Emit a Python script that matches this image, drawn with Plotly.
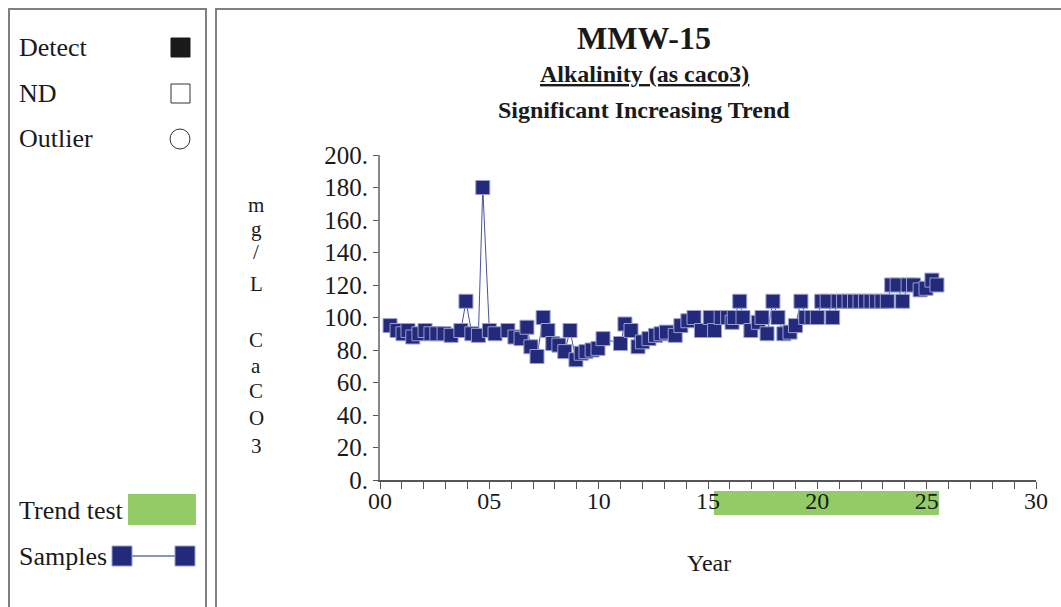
import plotly.graph_objects as go

# ---- data ----
years = [0.46, 0.78, 1.05, 1.28, 1.5, 1.78, 2.06, 2.33, 2.6, 2.93,
         3.25, 3.7, 3.93, 4.2, 4.5, 4.7, 5.0, 5.26, 5.85, 6.17,
         6.45, 6.72, 6.9, 7.18, 7.46, 7.68, 7.9, 8.18, 8.45, 8.69,
         8.96, 9.2, 9.42, 9.7, 9.97, 10.2, 11.0, 11.2, 11.48, 11.8,
         12.0, 12.3, 12.6, 12.85, 13.1, 13.5, 13.76, 14.08, 14.36, 14.7,
         15.1, 15.3, 15.6, 15.9, 16.1, 16.2, 16.45, 16.6, 16.96, 17.3,
         17.47, 17.7, 17.97, 18.2, 18.47, 18.75, 19.0, 19.25, 19.47, 19.75,
         20.0, 20.2, 20.45, 20.7, 20.95, 21.2, 21.45, 21.7, 21.95, 22.2,
         22.45, 22.7, 22.95, 23.2, 23.4, 23.65, 23.9, 24.15, 24.4, 24.7,
         24.97, 25.24, 25.47]
alkalinity = [95, 92, 90, 92, 88, 90, 92, 90, 90, 90,
              89, 92, 110, 90, 89, 180, 92, 90, 92, 88,
              87, 94, 82, 76, 100, 92, 84, 83, 79, 92,
              74, 78, 79, 80, 81, 87, 84, 96, 92, 82,
              85, 87, 89, 90, 91, 89, 95, 98, 100, 92,
              100, 92, 100, 100, 97, 100, 110, 100, 92, 97,
              100, 90, 110, 100, 90, 91, 95, 110, 100, 100,
              100, 110, 110, 100, 110, 110, 110, 110, 110, 110,
              110, 110, 110, 110, 120, 120, 110, 120, 120, 117,
              118, 123, 120]
trend_start, trend_end = 15.27, 25.56
x_tickvals = [0, 5, 10, 15, 20, 25, 30]
x_ticktext = ["00", "05", "10", "15", "20", "25", "30"]
y_tickvals = [0, 20, 40, 60, 80, 100, 120, 140, 160, 180, 200]
y_ticktext = ["0.", "20.", "40.", "60.", "80.", "100.", "120.", "140.", "160.", "180.", "200."]
ylabel_chars = ["m", "g", "/", "L", "C", "a", "C", "O", "3"]

W, H = 1061, 607
NAVY = "#232a7c"
GREEN = "#92cb67"
GRAY = "#808080"
FONT = "Liberation Serif"

def px(x):
    return x / W

def py(y):
    return 1 - y / H

fig = go.Figure()
fig.add_trace(go.Scatter(
    x=years, y=alkalinity, mode="lines+markers",
    line=dict(color="#4b519c", width=1),
    marker=dict(symbol="square", size=14, color=NAVY,
                line=dict(color="#9a9fcc", width=1)),
    showlegend=False, hoverinfo="x+y"))

shapes = []
# panel frames
shapes.append(dict(type="rect", xref="paper", yref="paper", x0=px(9), x1=px(206), y0=py(615), y1=py(9),
                   line=dict(color=GRAY, width=2), fillcolor="rgba(0,0,0,0)", layer="below"))
shapes.append(dict(type="rect", xref="paper", yref="paper", x0=px(216), x1=px(1070), y0=py(615), y1=py(9),
                   line=dict(color=GRAY, width=2), fillcolor="rgba(0,0,0,0)", layer="below"))
# trend test bar
shapes.append(dict(type="rect", xref="x", yref="paper", x0=trend_start, x1=trend_end,
                   y0=py(515), y1=py(491), line=dict(width=0), fillcolor=GREEN, layer="below"))
# legend symbols
shapes.append(dict(type="rect", xref="paper", yref="paper", x0=px(171), x1=px(190), y0=py(57), y1=py(38),
                   line=dict(color="#1a1a1a", width=1), fillcolor="#1a1a1a"))
shapes.append(dict(type="rect", xref="paper", yref="paper", x0=px(171), x1=px(190), y0=py(103), y1=py(84),
                   line=dict(color="#333333", width=1), fillcolor="white"))
shapes.append(dict(type="circle", xref="paper", yref="paper", x0=px(170), x1=px(190), y0=py(149), y1=py(129),
                   line=dict(color="#333333", width=1), fillcolor="white"))
shapes.append(dict(type="rect", xref="paper", yref="paper", x0=px(128), x1=px(196), y0=py(525), y1=py(494),
                   line=dict(width=0), fillcolor=GREEN))
shapes.append(dict(type="line", xref="paper", yref="paper", x0=px(122), x1=px(185), y0=py(556), y1=py(556),
                   line=dict(color="#6a70b0", width=1.5)))
shapes.append(dict(type="rect", xref="paper", yref="paper", x0=px(112), x1=px(132), y0=py(566), y1=py(546),
                   line=dict(color="#9a9fcc", width=1), fillcolor=NAVY))
shapes.append(dict(type="rect", xref="paper", yref="paper", x0=px(175), x1=px(195), y0=py(566), y1=py(546),
                   line=dict(color="#9a9fcc", width=1), fillcolor=NAVY))

ann = []
def text(x, y, s, size=26, bold=False, xanchor="left"):
    ann.append(dict(x=px(x), y=py(y), xref="paper", yref="paper", text=("<b>%s</b>" % s) if bold else s,
                    showarrow=False, xanchor=xanchor, yanchor="middle",
                    font=dict(family=FONT, size=size, color="#1a1a1a")))

text(17, 47, "Detect")
text(17, 93, "ND")
text(17, 139, "Outlier")
text(17, 510, "Trend test")
text(17, 556, "Samples")
text(644, 38, "MMW-15", size=32, bold=True, xanchor="center")
text(644, 74, "<u>Alkalinity (as caco3)</u>", size=24, bold=True, xanchor="center")
text(644, 110, "Significant Increasing Trend", size=24, bold=True, xanchor="center")
text(709, 563, "Year", size=24, xanchor="center")
ylab_y = [205, 229, 252, 284, 340, 366, 391, 418, 446]
for ch, yy in zip(ylabel_chars, ylab_y):
    text(256, yy, ch, size=21, xanchor="center")

fig.update_layout(
    width=W, height=H, margin=dict(l=0, r=0, t=0, b=0, pad=0, autoexpand=False),
    paper_bgcolor="white", plot_bgcolor="white",
    shapes=shapes, annotations=ann, showlegend=False,
    font=dict(family=FONT, size=20, color="#1a1a1a"),
    xaxis=dict(domain=[px(380), px(1036)], range=[0, 30], tickvals=x_tickvals, ticktext=x_ticktext,
               showgrid=False, zeroline=False, showline=True, linecolor="#555555", linewidth=2,
               ticks="outside", ticklen=7, tickcolor="#555555", tickwidth=1, automargin=False,
               ticklabelstandoff=-9,
               minor=dict(dtick=1, ticks="outside", ticklen=7, tickcolor="#555555", tickwidth=1),
               tickfont=dict(family=FONT, size=24, color="#1a1a1a"), fixedrange=True),
    yaxis=dict(domain=[py(480), py(155)], range=[0, 200], tickvals=y_tickvals, ticktext=y_ticktext,
               showgrid=False, zeroline=False, showline=True, linecolor="#888888", linewidth=2,
               ticks="outside", ticklen=5, tickcolor="#555555", tickwidth=1, automargin=False,
               tickfont=dict(family=FONT, size=25, color="#1a1a1a"), fixedrange=True),
)

fig.write_html("out.html", config={"displayModeBar": False},
               post_script="document.body.style.margin='0';document.body.style.overflow='hidden';")
